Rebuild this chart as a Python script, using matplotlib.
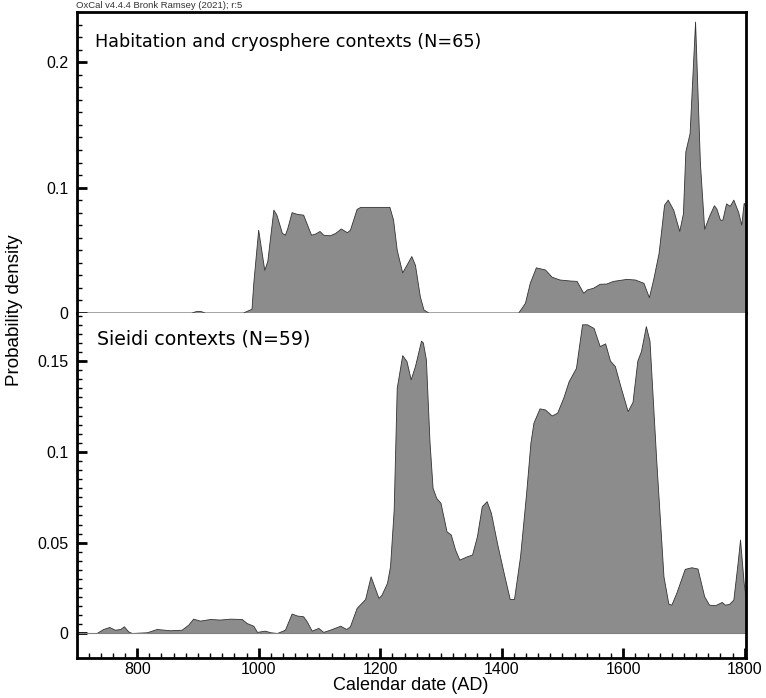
import matplotlib
matplotlib.use("Agg")
import matplotlib.pyplot as plt
from matplotlib.ticker import FixedLocator, MultipleLocator

# Summed probability, habitation and cryosphere contexts (N=65)
hab_years = [700, 890, 898, 905, 912, 975, 989, 992, 1000, 1010, 1015, 1025, 1030,
             1039, 1044, 1048, 1055, 1064, 1074, 1087, 1094, 1101, 1107, 1118,
             1127, 1136, 1146, 1151, 1162, 1168, 1216, 1222, 1228, 1237, 1244,
             1252, 1258, 1266, 1272, 1280, 1428, 1439, 1447, 1457, 1472, 1483,
             1496, 1513, 1524, 1535, 1541, 1551, 1562, 1573, 1584, 1606, 1620,
             1634, 1643, 1650, 1659, 1668, 1674, 1683, 1693, 1699, 1703, 1710,
             1719, 1727, 1734, 1742, 1750, 1754, 1760, 1764, 1770, 1776, 1782,
             1790, 1795, 1799, 1802]
hab_vals = [0, 0, 0.0012, 0.0012, 0, 0, 0.003, 0.024, 0.066, 0.034, 0.041, 0.082, 0.078,
            0.0635, 0.062, 0.0675, 0.080, 0.0786, 0.078, 0.062, 0.063, 0.065, 0.062,
            0.0616, 0.0635, 0.067, 0.064, 0.066, 0.0826, 0.0842, 0.0842, 0.074,
            0.050, 0.032, 0.038, 0.045, 0.038, 0.013, 0.0024, 0, 0, 0.0077, 0.0237,
            0.036, 0.0343, 0.0285, 0.0263, 0.0255, 0.0252, 0.0157, 0.0184, 0.0197,
            0.0229, 0.0231, 0.0252, 0.0268, 0.0263, 0.0237, 0.0122, 0.0263, 0.0476,
            0.086, 0.090, 0.082, 0.065, 0.079, 0.1285, 0.143, 0.232, 0.119, 0.0667,
            0.077, 0.0855, 0.083, 0.074, 0.074, 0.087, 0.085, 0.090, 0.080, 0.070,
            0.0875, 0.085]

# Summed probability, sieidi contexts (N=59)
sie_years = [700, 734, 745, 755, 764, 773, 779, 786, 792, 817, 833, 855, 874, 885,
             893, 904, 921, 937, 954, 973, 981, 992, 998, 1011, 1020, 1031, 1044,
             1055, 1064, 1074, 1080, 1088, 1099, 1107, 1118, 1135, 1145, 1151,
             1162, 1176, 1185, 1198, 1203, 1212, 1217, 1223, 1228, 1237, 1244,
             1251, 1258, 1268, 1271, 1276, 1282, 1287, 1293, 1300, 1310, 1317,
             1324, 1331, 1344, 1352, 1360, 1368, 1376, 1383, 1393, 1404, 1414,
             1421, 1431, 1441, 1448, 1453, 1463, 1472, 1483, 1492, 1502, 1511,
             1523, 1533, 1541, 1552, 1562, 1571, 1579, 1587, 1596, 1608, 1616,
             1624, 1630, 1638, 1644, 1655, 1667, 1675, 1680, 1688, 1702, 1713,
             1723, 1734, 1742, 1752, 1763, 1768, 1775, 1782, 1789, 1793, 1799, 1802]
sie_vals = [0, 0, 0.0022, 0.0033, 0.0018, 0.0022, 0.0037, 0.0009, 0, 0.0004, 0.0022,
            0.0015, 0.0018, 0.0046, 0.0079, 0.0068, 0.0077, 0.0074, 0.0079, 0.0077,
            0.0055, 0.004, 0.0006, 0.0013, 0.0004, 0, 0.0018, 0.0107, 0.0096, 0.0092,
            0.0064, 0.0013, 0.0028, 0.0006, 0.0018, 0.004, 0.0022, 0.0037, 0.0138,
            0.0187, 0.0312, 0.0193, 0.0211, 0.0276, 0.0368, 0.068, 0.135, 0.153,
            0.1498, 0.1397, 0.147, 0.161, 0.160, 0.1507, 0.105, 0.080, 0.0744,
            0.0717, 0.056, 0.0542, 0.046, 0.0404, 0.0423, 0.0432, 0.0533, 0.0698,
            0.0726, 0.0662, 0.0496, 0.0331, 0.0187, 0.0187, 0.0423, 0.0772, 0.1047,
            0.1158, 0.1237, 0.1231, 0.1198, 0.1213, 0.1295, 0.1387, 0.146, 0.170,
            0.170, 0.168, 0.158, 0.1595, 0.150, 0.147, 0.136, 0.1222, 0.1272, 0.150,
            0.1553, 0.169, 0.161, 0.0956, 0.0312, 0.0162, 0.0156, 0.022, 0.0353,
            0.0362, 0.0355, 0.0202, 0.0156, 0.0153, 0.0171, 0.0156, 0.016, 0.0184,
            0.0386, 0.0515, 0.0276, 0.0202]

hab_title = "Habitation and cryosphere contexts (N=65)"
sie_title = "Sieidi contexts (N=59)"
hab_ticks = [0, 0.1, 0.2]
hab_labels = ["0", "0.1", "0.2"]
sie_ticks = [0, 0.05, 0.1, 0.15]
sie_labels = ["0", "0.05", "0.1", "0.15"]

plt.rcParams['font.family'] = ['Liberation Sans', 'DejaVu Sans']

fig = plt.figure(figsize=(7.66, 6.98), dpi=100)
W, H = 766, 698
left, right = 77 / W, 746 / W
ax1 = fig.add_axes([left, 1 - 313 / H, right - left, (313 - 12) / H])
ax2 = fig.add_axes([left, 1 - 658 / H, right - left, (658 - 313) / H], sharex=ax1)

fill_col = '#8c8c8c'
edge_col = '#333333'
title_font = 'DejaVu Sans'

for ax, xs, ys in [(ax1, hab_years, hab_vals), (ax2, sie_years, sie_vals)]:
    ax.fill_between(xs, ys, 0, facecolor=fill_col, edgecolor='none')
    ax.plot(xs, ys, color=edge_col, lw=0.6)
    ax.axhline(0, color='#808080', lw=0.8)
    for s in ax.spines.values():
        s.set_linewidth(2)

ax1.set_xlim(701, 1802)
ax1.set_ylim(0, 0.24)
ax2.set_ylim(-0.0135, 0.1765)

ax1.spines['bottom'].set_visible(False)
ax2.spines['top'].set_visible(False)

ax1.set_yticks(hab_ticks, hab_labels)
ax1.yaxis.set_minor_locator(FixedLocator([i * 0.01 for i in range(25)]))
ax2.set_yticks(sie_ticks, sie_labels)
ax2.yaxis.set_minor_locator(FixedLocator([i * 0.005 for i in range(36)]))

for ax in (ax1, ax2):
    ax.tick_params(axis='y', which='major', direction='in', length=7, width=2,
                   labelsize=11.5, pad=6)
    ax.tick_params(axis='y', which='minor', direction='in', length=3.5, width=1)
    ax.tick_params(right=False, top=False)

ax1.tick_params(axis='x', which='both', bottom=False, labelbottom=False)
ax2.xaxis.set_major_locator(MultipleLocator(200))
ax2.xaxis.set_minor_locator(MultipleLocator(20))
ax2.tick_params(axis='x', which='major', direction='in', length=7, width=2,
                labelsize=11.5, pad=3)
ax2.tick_params(axis='x', which='minor', direction='in', length=3.5, width=1)

ax1.text(0.027, 0.9, hab_title, transform=ax1.transAxes, fontsize=12.7,
         family=title_font, va='center', ha='left')
ax2.text(0.03, 0.925, sie_title, transform=ax2.transAxes, fontsize=13.6,
         family=title_font, va='center', ha='left')

fig.text(411 / W, 1 - 686 / H, "Calendar date (AD)", fontsize=13,
         ha='center', va='center')
fig.text(15 / W, 1 - 310 / H, "Probability density", rotation=90, fontsize=13.5,
         ha='center', va='center')
fig.text(76 / W, 1 - 6 / H, "OxCal v4.4.4 Bronk Ramsey (2021); r:5", fontsize=6.8,
         color='#333333', ha='left', va='center')

fig.savefig("out.png", dpi=100)
